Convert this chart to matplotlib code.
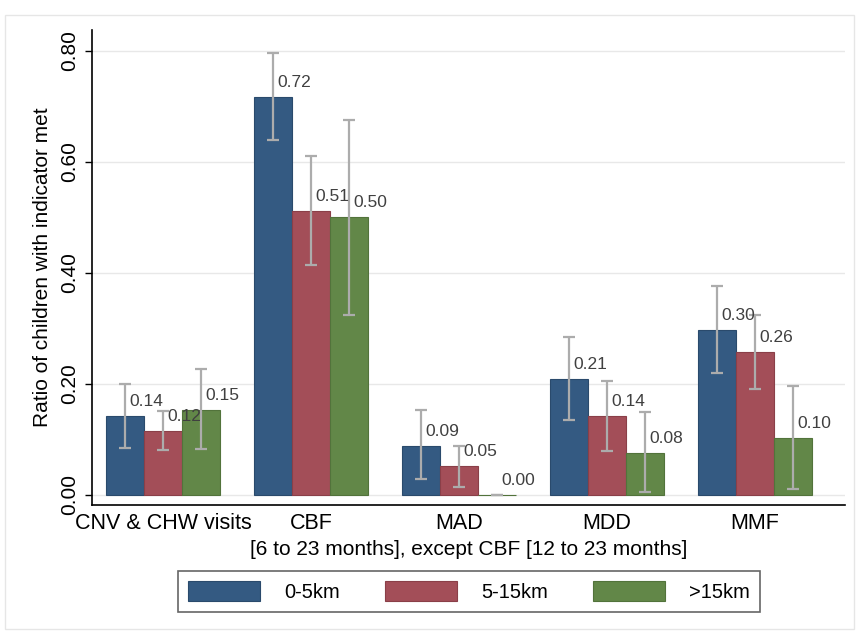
import numpy as np
import matplotlib.pyplot as plt
from matplotlib.patches import Rectangle

plt.rcParams['font.family'] = ['Liberation Sans', 'DejaVu Sans']

# data
categories = ["CNV & CHW visits", "CBF", "MAD", "MDD", "MMF"]
series = ["0-5km", "5-15km", ">15km"]
values = [
    [0.142, 0.717, 0.088, 0.209, 0.297],   # 0-5km
    [0.115, 0.511, 0.053, 0.142, 0.257],   # 5-15km
    [0.153, 0.500, 0.000, 0.076, 0.102],   # >15km
]
labels = [
    ["0.14", "0.72", "0.09", "0.21", "0.30"],
    ["0.12", "0.51", "0.05", "0.14", "0.26"],
    ["0.15", "0.50", "0.00", "0.08", "0.10"],
]
ci_low = [
    [0.085, 0.640, 0.028, 0.135, 0.220],
    [0.081, 0.414, 0.015, 0.080, 0.190],
    [0.083, 0.325, 0.000, 0.005, 0.010],
]
ci_high = [
    [0.200, 0.796, 0.153, 0.284, 0.377],
    [0.151, 0.610, 0.088, 0.205, 0.324],
    [0.227, 0.675, 0.000, 0.150, 0.196],
]
colors = ["#345A82", "#A34E58", "#628748"]
edges = ["#2a4a6c", "#8a3f48", "#52733b"]

fig = plt.figure(figsize=(8.59, 6.32), dpi=100)
fig.patches.append(Rectangle((0.006, 0.004), 0.988, 0.972, transform=fig.transFigure,
                             fill=False, edgecolor="#e6e6e6", lw=1))
ax = fig.add_axes([0.107, 0.201, 0.877, 0.752])

x = np.arange(len(categories))
w = 0.257
for i, s in enumerate(series):
    xs = x + (i - 1) * w
    v = np.array(values[i])
    ax.bar(xs, v, width=w, color=colors[i], edgecolor=edges[i], lw=0.8, label=s, zorder=2)
    lo = v - np.array(ci_low[i])
    hi = np.array(ci_high[i]) - v
    ax.errorbar(xs, v, yerr=[lo, hi], fmt="none", ecolor="#acacac", elinewidth=1.6,
                capsize=4.5, capthick=1.6, zorder=3)
    for xx, vv, t in zip(xs, v, labels[i]):
        ax.annotate(t, (xx, vv), xytext=(3, 5), textcoords="offset points",
                    ha="left", va="bottom", fontsize=12.5, color="#404040", zorder=4)

ax.set_xlim(-0.48, 4.61)
ax.set_ylim(-0.018, 0.838)
ax.set_yticks([0, 0.2, 0.4, 0.6, 0.8])
ax.set_yticklabels(["0.00", "0.20", "0.40", "0.60", "0.80"], rotation=90, va="center")
ax.set_xticks(x)
ax.set_xticklabels(categories)
ax.tick_params(axis="x", length=0, labelsize=15.5, pad=6)
ax.tick_params(axis="y", length=5, width=1, labelsize=15, pad=4)
ax.grid(axis="y", color="#e8e8e8", lw=1, zorder=0)
ax.set_axisbelow(True)
for sp in ["top", "right"]:
    ax.spines[sp].set_visible(False)
for sp in ["left", "bottom"]:
    ax.spines[sp].set_linewidth(1.2)

ax.set_ylabel("Ratio of children with indicator met", fontsize=15, labelpad=6)
ax.set_xlabel("[6 to 23 months], except CBF [12 to 23 months]", fontsize=15, labelpad=4)

leg = fig.legend(loc="center", bbox_to_anchor=(0.546, 0.064), ncol=3, fontsize=14.5,
                 handlelength=3.6, handleheight=1.1, columnspacing=2.2, handletextpad=1.2,
                 frameon=True, fancybox=False, edgecolor="#404040", borderpad=0.5)
leg.get_frame().set_linewidth(1.2)

fig.savefig("out.png", dpi=100)
